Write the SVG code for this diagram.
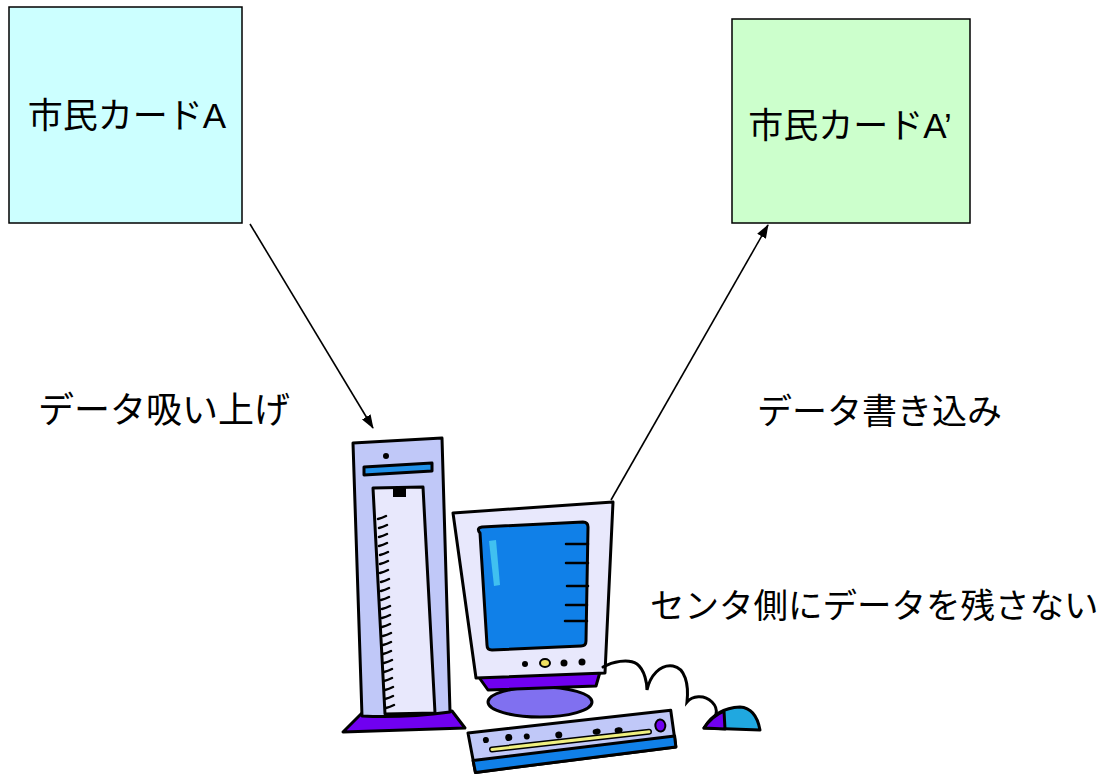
<svg xmlns="http://www.w3.org/2000/svg" width="1103" height="776" viewBox="0 0 1103 776">
  <defs>
    <marker id="arrow" viewBox="0 0 14 10" refX="13" refY="5" markerWidth="14" markerHeight="10" markerUnits="userSpaceOnUse" orient="auto">
      <path d="M0,0 L14,5 L0,10 Z" fill="#000"/>
    </marker>
    <style>
      .card { stroke: #000; stroke-width: 1.5; }
      .label { font-family: "Liberation Sans", "Noto Sans CJK JP", sans-serif; font-size: 35px; fill: #000; }
      .edge { stroke: #000; stroke-width: 1.6; fill: none; marker-end: url(#arrow); }
      .ol { stroke: #000; stroke-width: 3; stroke-linejoin: round; stroke-linecap: round; }
      .tick { stroke: #000; stroke-width: 2.5; stroke-linecap: round; fill: none; }
    </style>
  </defs>

  <rect width="1103" height="776" fill="#fff"/>

  <!-- card before processing -->
  <g id="card-a">
    <rect class="card" x="9" y="7" width="233" height="216" fill="#ccffff"/>
    <text class="label" x="127" y="128" text-anchor="middle">市民カードA</text>
  </g>

  <!-- card after processing -->
  <g id="card-a-prime">
    <rect class="card" x="732" y="19" width="238" height="204" fill="#ccffcc"/>
    <text class="label" x="850" y="138" text-anchor="middle">市民カードA’</text>
  </g>

  <!-- central computer -->
  <g id="computer">
    <!-- tower base -->
    <path class="ol" d="M362,713 L452,711 L465,728 L343,732 Z" fill="#7000f0"/>
    <!-- tower body -->
    <path class="ol" d="M353,443 L442,438 L450,712 Q405,718 362,716 Z" fill="#c0c8f8"/>
    <circle cx="386" cy="456" r="3" fill="#000"/>
    <path class="ol" d="M364,467 L432,463 L432,471 L364,475 Z" fill="#2090e8"/>
    <!-- tower front panel -->
    <path class="ol" d="M373,488 L423,487 L435,713 L385,714 Z" fill="#e8e8fc"/>
    <rect x="393" y="488" width="13" height="9" fill="#000"/>
    <g class="tick">
      <path d="M378,519 q4,-1 8,-3 M379,528 q4,-1 8,-3 M379,537 q4,-1 8,-3 M379,546 q4,-1 8,-3 M380,555 q4,-1 8,-3 M380,564 q4,-1 8,-3 M380,573 q4,-1 8,-3 M381,582 q4,-1 8,-3 M381,591 q4,-1 8,-3 M381,600 q4,-1 8,-3 M382,609 q4,-1 8,-3 M382,618 q4,-1 8,-3 M382,627 q4,-1 8,-3 M383,636 q4,-1 8,-3 M383,645 q4,-1 8,-3 M383,654 q4,-1 8,-3 M384,663 q4,-1 8,-3 M384,672 q4,-1 8,-3 M384,681 q4,-1 8,-3 M385,690 q4,-1 8,-3 M385,699 q4,-1 8,-3 M386,708 q4,-1 8,-3"/>
    </g>

    <!-- monitor stand -->
    <ellipse class="ol" cx="540" cy="702" rx="52" ry="15" fill="#8070f0"/>
    <path class="ol" d="M478,676 L600,672 L596,686 L488,690 Z" fill="#7000f0"/>
    <!-- monitor bezel -->
    <path class="ol" d="M453,513 L613,502 L605,673 L476,678 Z" fill="#e8e8fc"/>
    <!-- screen -->
    <path class="ol" d="M480,533 Q476,528 482,527 L583,522 Q588,522 588,527 L586,641 Q586,646 581,646 L492,650 Q487,650 487,645 Z" fill="#1080e8"/>
    <path d="M489,541 L496,540 L500,585 L494,586 Z" fill="#40c0f0"/>
    <g class="tick">
      <path d="M566,544 L588,544 M566,563 L588,563 M567,586 L588,586 M566,605 L587,605 M565,621 L587,621"/>
    </g>
    <circle cx="525" cy="664" r="3" fill="#000"/>
    <ellipse cx="545" cy="663" rx="5" ry="4" fill="#f0e060" stroke="#000" stroke-width="2"/>
    <circle cx="564" cy="663" r="3.5" fill="#000"/>
    <circle cx="582" cy="662" r="3.5" fill="#000"/>

    <!-- mouse cable -->
    <path d="M603,667 C612,662 628,658 637,664 C645,670 647,684 647,690 C650,676 660,664 673,666 C685,668 689,684 687,702 C692,696 704,694 712,702 C716,706 717,710 716,714" fill="none" stroke="#000" stroke-width="3" stroke-linecap="round"/>

    <!-- mouse -->
    <path class="ol" d="M704,728 Q716,708 740,707 Q756,708 760,730 Z" fill="#20a8e0"/>
    <path class="ol" d="M704,728 Q712,716 724,711 L725,729 Z" fill="#7000f0"/>

    <!-- keyboard -->
    <g transform="translate(468,733) rotate(-6.4)">
      <path class="ol" d="M0,0 L204,0 L205,37 L3,40 Z" fill="#c0c8f8"/>
      <path class="ol" d="M2,28 L205,26 L205,37 L3,40 Z" fill="#1080e8"/>
      <path d="M22,19 L180,19" stroke="#000" stroke-width="6" stroke-linecap="round"/>
      <path d="M22,19 L180,19" stroke="#f0f080" stroke-width="3" stroke-linecap="round"/>
      <ellipse cx="192" cy="14" rx="5" ry="6" fill="#7000f0" stroke="#000" stroke-width="2"/>
      <circle cx="17" cy="9" r="3" fill="#000"/>
      <circle cx="40" cy="9" r="3.5" fill="#000"/>
      <circle cx="58" cy="10" r="3" fill="#000"/>
      <circle cx="90" cy="12" r="3.5" fill="#000"/>
      <ellipse cx="128" cy="13" rx="4" ry="3" fill="#000"/>
      <ellipse cx="150" cy="14" rx="4" ry="3" fill="#000"/>
    </g>
  </g>

  <!-- data flow -->
  <g id="connectors">
    <line class="edge" x1="250" y1="224" x2="373" y2="428"/>
    <line class="edge" x1="611" y1="500" x2="768" y2="225"/>
  </g>

  <g id="labels">
    <text class="label" x="38" y="423" style="font-size:36px">データ吸い上げ</text>
    <text class="label" x="757" y="424">データ書き込み</text>
    <text class="label" x="650" y="618" style="font-size:34.5px">センタ側にデータを残さない</text>
  </g>
</svg>
